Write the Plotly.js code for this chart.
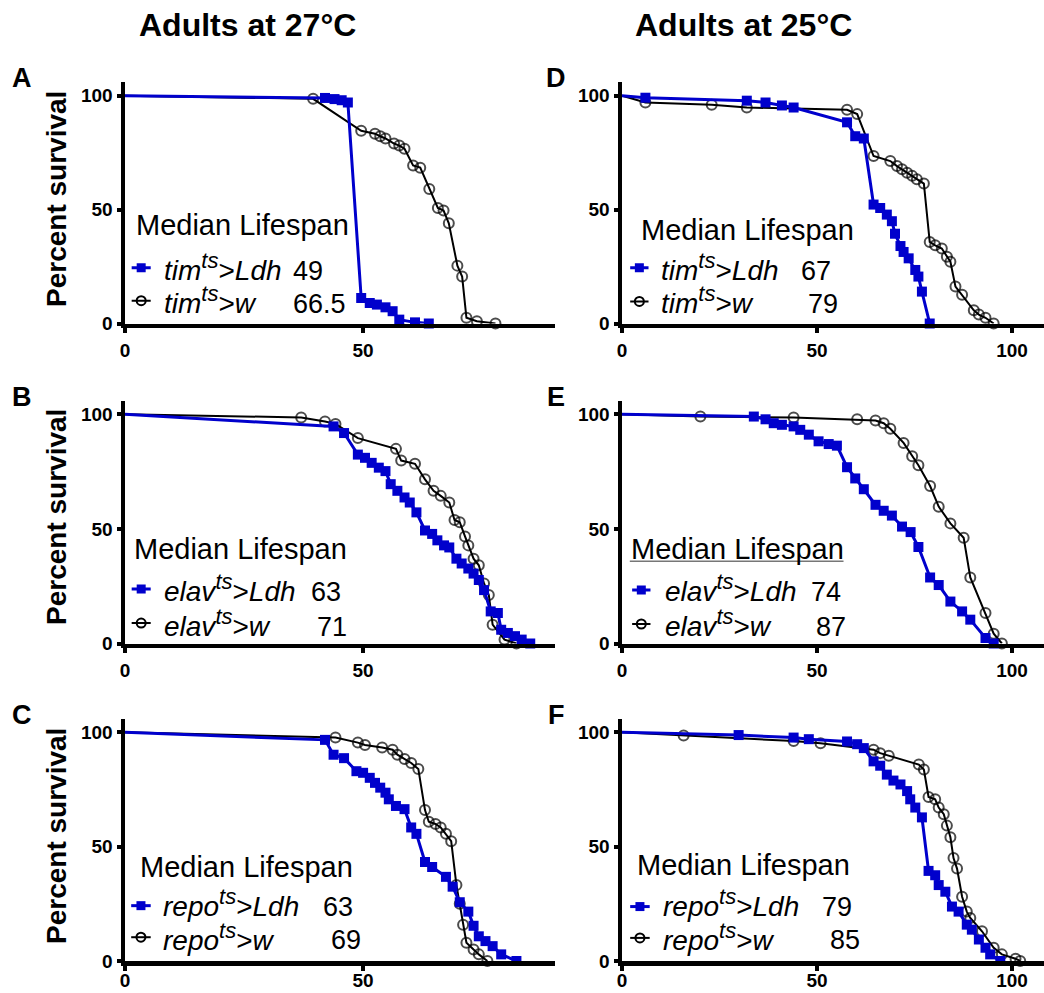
<!DOCTYPE html>
<html><head><meta charset="utf-8">
<script src="https://cdn.plot.ly/plotly-3.0.1.min.js"></script>
<style>html,body{margin:0;padding:0;background:#fff}</style>
</head><body><div id="chart" style="width:1044px;height:993px"></div>
<script>
// ---------- DATA (days, percent survival) ----------
// Panel A: tim-ts, adults at 27C
const A_ldh_x = [0, 42, 44, 45.5, 46.8, 49.6, 51.4, 52.9, 54.7, 56.2, 57.6, 60.9, 63.8];
const A_ldh_y = [100, 99, 98.5, 98, 97, 11.2, 9, 8.3, 7.1, 5.4, 1.7, 0.5, 0];
const A_w_x = [0, 39.5, 49.6, 52.5, 53.6, 54.7, 56.5, 57.6, 58.7, 60.5, 62, 63.9, 65.7, 66.9, 68, 69.8, 70.8, 71.7, 73.9, 77.8];
const A_w_y = [100, 98.6, 84.6, 83.3, 82.2, 81.2, 79, 78.1, 76.7, 69.4, 68.4, 59, 50.7, 49.6, 44, 25.4, 20.6, 2.5, 1, 0];
// Panel D: tim-ts, adults at 25C
const D_ldh_x = [0, 6, 32, 36.8, 41, 44, 57.7, 59.8, 62, 64.5, 66.2, 67.9, 69.2, 70, 71.4, 72.2, 73.5, 75.2, 76, 76.9, 78.9];
const D_ldh_y = [100, 99.1, 97.8, 97, 95.7, 94.8, 88.3, 82.2, 81.2, 52.2, 50.7, 47.8, 44.9, 39.4, 34, 31.4, 28.6, 23.5, 20.6, 14, 0];
const D_w_x = [0, 6, 23, 32, 57.7, 60.3, 64.5, 68.8, 70.5, 71.8, 73.1, 74.4, 75.6, 77.4, 78.9, 80.3, 82, 83.3, 84.2, 85.5, 87.2, 90.2, 91.5, 93.2, 95.3];
const D_w_y = [100, 97, 96, 94.8, 93.8, 91.9, 73.5, 71.3, 69.1, 67.7, 66.2, 64.8, 63.3, 61.4, 35.8, 34.3, 32.9, 29.3, 27.1, 16.2, 12.6, 5.8, 3.9, 2.5, 0];
// Panel B: elav-ts, 27C
const B_ldh_x = [0, 43.8, 46, 48.9, 50.4, 51.8, 53.3, 54.7, 55.8, 57.2, 58.7, 59.8, 61.2, 63, 64.5, 65.6, 67, 68.1, 69.6, 70.7, 72.1, 73.2, 74.3, 75.4, 76.8, 78.3, 79, 80.4, 81.9, 83.3, 85.1];
const B_ldh_y = [100, 94.7, 91.8, 82.4, 81, 78.8, 76.7, 75.2, 69.5, 66.6, 63.7, 61.5, 57.2, 49.3, 47.8, 45, 42.8, 41.9, 37, 34.9, 32.7, 30.5, 27.7, 23.3, 14, 13.3, 6, 4.6, 3.2, 1.7, 0];
const B_w_x = [0, 37, 42, 44.2, 48.9, 56.9, 58, 60.9, 63, 64.8, 66.3, 68.1, 69.2, 70.3, 71.4, 72.1, 73.2, 74.3, 75.4, 76.4, 77.2, 79.7, 82.2];
const B_w_y = [100, 98.6, 96.8, 95.8, 89.6, 84.9, 79.8, 78.4, 71.6, 66.6, 64.4, 61.5, 53.9, 52.9, 46.7, 42.8, 37, 34.1, 26.2, 21.2, 8.2, 1.7, 0];
// Panel E: elav-ts, 25C
const E_ldh_x = [0, 33.8, 36.8, 38.9, 41, 44, 45.7, 47.9, 50.4, 53, 55.1, 57.7, 59.8, 62, 65, 67.1, 69.2, 71.8, 74, 76, 79, 81.2, 84.2, 87.2, 89.3, 93.2, 95.3];
const E_ldh_y = [100, 99, 97.8, 96.1, 95.4, 94.7, 93.2, 91.1, 88.2, 87, 86.3, 76.9, 72, 67.3, 60.5, 57.9, 55.8, 51, 48.6, 42.1, 28.8, 25.5, 18.3, 14, 10.4, 2.4, 0];
const E_w_x = [0, 20.1, 44, 60.3, 65, 67.1, 68.8, 72.2, 74.4, 76, 79, 81.2, 84.2, 87.6, 89.3, 93.2, 95.3, 97.4];
const E_w_y = [100, 99, 98.6, 97.8, 97.3, 96.1, 93.7, 87.5, 81.7, 77.8, 68.7, 59.7, 52.4, 46.1, 28.8, 13.3, 4.3, 0];
// Panel C: repo-ts, 27C
const C_ldh_x = [0, 42, 43.8, 46, 48.6, 50, 51.4, 52.5, 53.6, 54.7, 55.4, 56.9, 58.7, 60.1, 61.2, 63, 64.5, 67.4, 68.8, 70.3, 72.1, 73.2, 74.3, 75.7, 77.2, 79, 82.2];
const C_ldh_y = [100, 96.7, 90.2, 88.7, 83, 82.3, 80.1, 77.9, 75.8, 73.6, 70.7, 67.8, 66.4, 58.4, 55.6, 43.3, 41.1, 36.8, 32.5, 25.7, 21.6, 15.4, 10.8, 8.7, 6.5, 2.9, 0];
const C_w_x = [0, 44.2, 48.9, 50.4, 54, 56.2, 57.2, 58.7, 60.1, 61.6, 63, 63.8, 65.2, 66.3, 67.4, 68.5, 69.6, 70.3, 71, 71.7, 73.2, 74.3, 76.1];
const C_w_y = [100, 97.7, 95.5, 94.5, 93.4, 92.4, 90.2, 88.3, 86.6, 84, 66, 60.9, 59.9, 58.4, 55.6, 52.4, 33.2, 25, 15.9, 8, 5, 2.9, 0];
// Panel F: repo-ts, 25C
const F_ldh_x = [0, 29.9, 44, 47.9, 57.7, 60.3, 62, 64.5, 66.2, 67.9, 69.6, 71.4, 73.1, 73.9, 75.2, 76.9, 78.6, 80.3, 81.2, 82.9, 84.6, 86.3, 88.4, 89.7, 91.5, 93.2, 94.4, 97];
const F_ldh_y = [100, 98.8, 97.7, 97, 96, 94.8, 93.1, 87.3, 85.4, 81.5, 78.9, 77.2, 74.3, 70.7, 67.1, 62.8, 39.4, 37.5, 33.2, 30.3, 23.8, 21.6, 15.9, 13.7, 9.4, 5.8, 2.9, 0];
const F_w_x = [0, 15.8, 44, 50.9, 64.5, 66.2, 68.4, 76.1, 77.4, 78.6, 80.3, 81.2, 82.5, 83.3, 84.2, 85, 85.9, 87.2, 88.4, 89.3, 92.3, 95.3, 97.4, 100.9, 102.1];
const F_w_y = [100, 98.6, 96.2, 95.2, 92.4, 90.9, 89.8, 85.9, 83.7, 71.7, 70.7, 67.1, 64.2, 59.2, 54.1, 45, 40.4, 28.1, 21.6, 18.8, 13, 5.8, 2.9, 1, 0];

const columnTitles = ['Adults at 27°C', 'Adults at 25°C'];
const panelLetters = ['A', 'D', 'B', 'E', 'C', 'F'];
const drivers = ['tim', 'tim', 'elav', 'elav', 'repo', 'repo'];
const medianLdh = ['49', '67', '63', '74', '63', '79'];
const medianW = ['66.5', '79', '71', '87', '69', '85'];
const yTicks = [0, 50, 100];
const xTicksLeft = [0, 50];
const xTicksRight = [0, 50, 100];
const yAxisTitle = 'Percent survival';
const legendHeader = 'Median Lifespan';

// ---------- LAYOUT ----------
const W = 1044, H = 993;
const FONT = '"Liberation Sans", Arial, sans-serif';
const BLUE = '#0000CC';
const px = v => v / W, py = v => 1 - v / H;

const colDom = [[px(125), px(555)], [px(622), 1]];
const colRange = [[0, 90.3], [0, 108.2]];
const colTicks = [xTicksLeft, xTicksRight];
const rowDom = [[py(323.5), py(82)], [py(643.5), py(400.5)], [py(961), py(718.6)]];
const rowStandoff = [1, 1, -6];

const series = [
  [A_ldh_x, A_ldh_y, A_w_x, A_w_y],
  [D_ldh_x, D_ldh_y, D_w_x, D_w_y],
  [B_ldh_x, B_ldh_y, B_w_x, B_w_y],
  [E_ldh_x, E_ldh_y, E_w_x, E_w_y],
  [C_ldh_x, C_ldh_y, C_w_x, C_w_y],
  [F_ldh_x, F_ldh_y, F_w_x, F_w_y]
];

// legend text placement in each panel (data units)
const legPos = [
  {mx: 2.0, mb: 38.7, sx: [1.4, 5.4], s1: 24.5, tx: 8.0, b1: 19.1, n1: 35.1, s2: 10.0, b2: 4.6, n2: 35.0},
  {mx: 4.7, mb: 36.5, sx: [2.1, 6.8], s1: 24.5, tx: 9.8, b1: 19.1, n1: 45.7, s2: 9.7, b2: 4.6, n2: 47.4},
  {mx: 1.6, mb: 37.0, sx: [1.4, 5.4], s1: 23.8, tx: 8.0, b1: 18.3, n1: 38.8, s2: 8.9, b2: 3.2, n2: 40.2},
  {mx: 2.0, mb: 37.0, sx: [2.6, 7.3], s1: 23.3, tx: 10.7, b1: 18.3, n1: 48.3, s2: 8.5, b2: 3.2, n2: 49.6, ul: true},
  {mx: 2.9, mb: 36.8, sx: [1.3, 5.4], s1: 24.2, tx: 7.8, b1: 19.5, n1: 41.4, s2: 10.4, b2: 5.0, n2: 43.1},
  {mx: 3.7, mb: 37.8, sx: [2.1, 7.1], s1: 23.8, tx: 10.3, b1: 19.5, n1: 51.0, s2: 10.1, b2: 5.0, n2: 53.0}
];

const traces = [], annotations = [], shapes = [];
const layout = {
  width: W, height: H, margin: {l: 0, r: 0, t: 0, b: 0},
  paper_bgcolor: '#fff', plot_bgcolor: 'rgba(0,0,0,0)',
  showlegend: false, font: {family: FONT, color: '#000'},
  annotations: annotations, shapes: shapes
};

const tickFont = {family: FONT, size: 19, color: '#000', weight: 'bold'};
const ROWSZ = 28;

for (let i = 0; i < 6; i++) {
  const col = i % 2, row = Math.floor(i / 2);
  const n = i === 0 ? '' : String(i + 1);
  const xa = 'x' + n, ya = 'y' + n;
  layout['xaxis' + n] = {
    domain: colDom[col], range: colRange[col], anchor: ya,
    tickvals: colTicks[col], ticktext: colTicks[col].map(String),
    showline: true, linewidth: 4.5, linecolor: '#000',
    ticks: 'outside', ticklen: 5, tickwidth: 4, tickcolor: '#000',
    showgrid: false, zeroline: false, tickfont: tickFont,
    ticklabelstandoff: rowStandoff[row], fixedrange: true, automargin: false
  };
  layout['yaxis' + n] = {
    domain: rowDom[row], range: [0, 106], anchor: xa,
    tickvals: yTicks, ticktext: yTicks.map(String),
    showline: true, linewidth: 4.5, linecolor: '#000',
    ticks: 'outside', ticklen: 4, tickwidth: 4, tickcolor: '#000',
    showgrid: false, zeroline: false, tickfont: tickFont,
    ticklabelstandoff: 0, fixedrange: true, automargin: false
  };
  const [lx, ly, wx, wy] = series[i];
  traces.push({
    type: 'scatter', mode: 'lines+markers', x: wx, y: wy, xaxis: xa, yaxis: ya,
    line: {color: '#000', width: 2},
    marker: {symbol: 'circle-open', size: wx.map((v, k) => k === 0 ? 0 : 10), color: '#000', line: {width: 2, color: '#000'}},
    cliponaxis: false, hoverinfo: 'skip'
  });
  traces.push({
    type: 'scatter', mode: 'lines+markers', x: lx, y: ly, xaxis: xa, yaxis: ya,
    line: {color: BLUE, width: 3},
    marker: {symbol: 'square', size: lx.map((v, k) => k === 0 ? 0 : 10), color: BLUE, opacity: 1, line: {width: 0}},
    cliponaxis: false, hoverinfo: 'skip'
  });

  // legend block
  const L = legPos[i], d = drivers[i];
  const txt = (x, base, text, size) => annotations.push({
    xref: xa, yref: ya, x: x, y: base, xanchor: 'left', yanchor: 'bottom',
    yshift: -(0.212 * size + 1), showarrow: false, text: text, borderpad: 0,
    font: {family: FONT, size: size, color: '#000'}
  });
  const sup = '<sup><i><span style="font-size:22px">ts</span></i></sup>';
  txt(L.mx, L.mb, legendHeader, 29);
  txt(L.tx, L.b1, '<i>' + d + '</i>' + sup + '><i>Ldh</i>', ROWSZ);
  txt(L.n1, L.b1, medianLdh[i], 27);
  txt(L.tx, L.b2, '<i>' + d + '</i>' + sup + '><i>w</i>', ROWSZ);
  txt(L.n2, L.b2, medianW[i], 27);
  if (L.ul) {
    shapes.push({type: 'line', xref: xa, yref: ya, x0: L.mx, x1: 56.8, y0: L.mb - 1.1, y1: L.mb - 1.1,
      line: {color: '#777', width: 1.5}});
  }
  // legend samples
  const cx = (L.sx[0] + L.sx[1]) / 2;
  shapes.push({type: 'line', xref: xa, yref: ya, x0: L.sx[0], x1: L.sx[1], y0: L.s1, y1: L.s1, line: {color: BLUE, width: 3}});
  shapes.push({type: 'rect', xref: xa, yref: ya, xsizemode: 'pixel', ysizemode: 'pixel', xanchor: cx, yanchor: L.s1,
    x0: -4.5, x1: 4.5, y0: -4.5, y1: 4.5, fillcolor: BLUE, line: {width: 0}});
  shapes.push({type: 'line', xref: xa, yref: ya, x0: L.sx[0], x1: L.sx[1], y0: L.s2, y1: L.s2, line: {color: '#000', width: 2}});
  shapes.push({type: 'circle', xref: xa, yref: ya, xsizemode: 'pixel', ysizemode: 'pixel', xanchor: cx, yanchor: L.s2,
    x0: -4.5, x1: 4.5, y0: -4.5, y1: 4.5, fillcolor: 'rgba(0,0,0,0)', line: {color: '#000', width: 2}});
}

// column titles
[[247.5, 25.5], [743, 25.5]].forEach((p, k) => annotations.push({
  xref: 'paper', yref: 'paper', x: px(p[0]), y: py(p[1]), xanchor: 'center', yanchor: 'middle',
  showarrow: false, text: '<b>' + columnTitles[k] + '</b>', font: {family: FONT, size: 32, color: '#000'}
}));
// panel letters
const letterPos = [[22, 77.5], [556, 77.5], [22, 396.5], [556, 396.5], [22, 714.5], [556, 714.5]];
letterPos.forEach((p, k) => annotations.push({
  xref: 'paper', yref: 'paper', x: px(p[0]), y: py(p[1]), xanchor: 'center', yanchor: 'middle',
  showarrow: false, text: '<b>' + panelLetters[k] + '</b>', font: {family: FONT, size: 27, color: '#000'}
}));
// y axis titles
[199, 517, 836].forEach(yc => annotations.push({
  xref: 'paper', yref: 'paper', x: px(56), y: py(yc), xanchor: 'center', yanchor: 'middle',
  textangle: -90, showarrow: false, text: '<b>' + yAxisTitle + '</b>', font: {family: FONT, size: 28, color: '#000'}
}));

Plotly.newPlot('chart', traces, layout, {displayModeBar: false, staticPlot: true});
</script>
</body></html>
